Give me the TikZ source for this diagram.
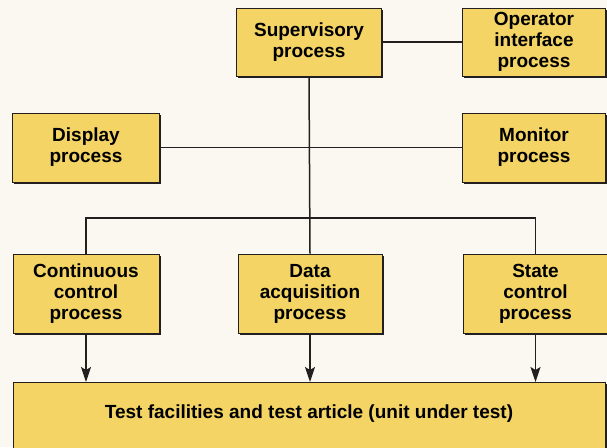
\documentclass[tikz,border=0pt]{standalone}
\usepackage{fontspec}
\setmainfont{Liberation Sans}
\usetikzlibrary{arrows.meta, positioning, shadows}
\definecolor{procyellow}{RGB}{243, 212, 100}
\definecolor{paper}{RGB}{250, 248, 241}
\definecolor{inkdark}{RGB}{35, 31, 32}

\begin{document}
\begin{tikzpicture}[x=1pt, y=-1pt,
    proc/.style={draw=inkdark, line width=1pt, fill=procyellow,
      drop shadow={opacity=1, fill=inkdark, shadow xshift=1.6pt, shadow yshift=-1.6pt},
      align=center, inner sep=0pt, font=\bfseries\fontsize{19}{21}\selectfont},
    conn/.style={inkdark, line width=1.5pt},
    arr/.style={-{Stealth[length=15pt, width=10pt, inset=3pt]}, conn}
  ]
    \clip (0,0) rectangle (607,447);
    \fill[paper] (0,0) rectangle (607,447);

    % top row
    \node[proc, minimum width=145pt, minimum height=68pt] (super) at (309,42)
      {Supervisory\\process};
    \node[proc, minimum width=143pt, minimum height=68pt, right=80pt of super] (oper)
      {Operator\\interface\\process};

    % middle row
    \node[proc, minimum width=147pt, minimum height=69pt] (disp) at (86,147.5)
      {Display\\process};
    \node[proc, minimum width=143pt, minimum height=69pt] (mon) at (oper |- disp)
      {Monitor\\process};

    % lower row
    \node[proc, minimum width=146pt, minimum height=79pt] (cont) at (86,293.5)
      {Continuous\\control\\process};
    \node[proc, minimum width=144pt, minimum height=79pt, right=78pt of cont] (daq)
      {Data\\acquisition\\process};
    \node[proc, minimum width=145pt, minimum height=79pt, right=80pt of daq] (state)
      {State\\control\\process};

    \node[proc, anchor=north, minimum width=592pt, text height=12pt, text depth=50pt,
          inner ysep=23.5pt] (test) at (309,382)
      {Test facilities and test article (unit under test)};

    \coordinate (fork) at (309,218);

    \draw[conn] (super.east) -- (oper.west);
    \draw[conn] (disp.east) -- (mon.west);
    \draw[conn] (super.south) -- (daq.north);
    \draw[conn] (cont.north) |- (fork) -| (state.north);

    \foreach \p in {cont, daq, state}
      \draw[arr] (\p.south) -- (\p.south |- test.north);
  \end{tikzpicture}
\end{document}
